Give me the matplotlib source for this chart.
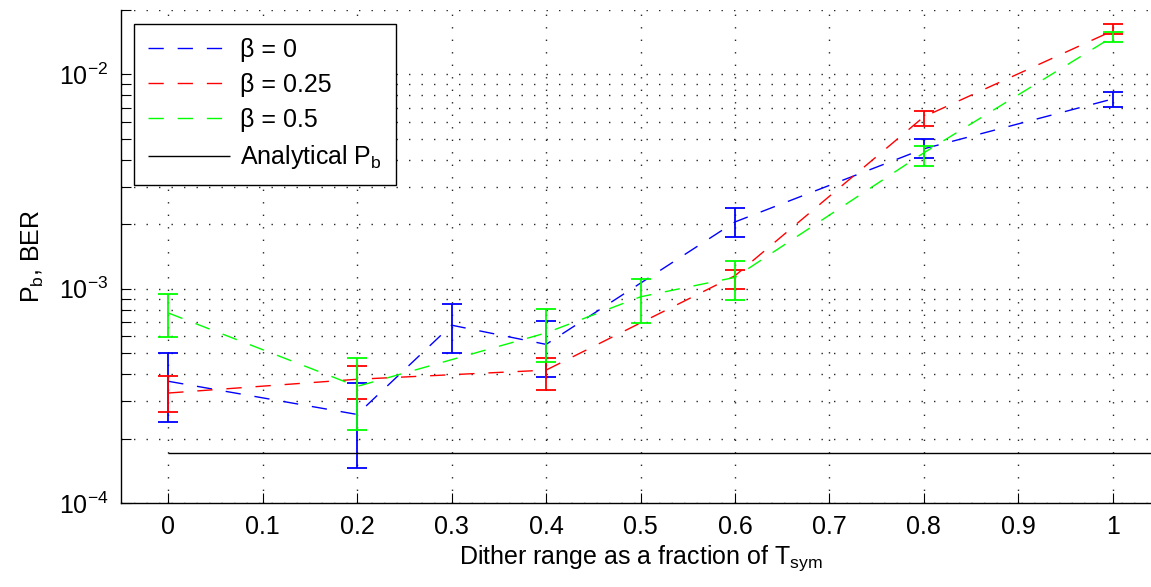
import numpy as np
import matplotlib
matplotlib.use("Agg")
import matplotlib.pyplot as plt
from matplotlib.ticker import LogLocator, NullFormatter

plt.rcParams['font.family'] = ['Liberation Sans', 'DejaVu Sans']
plt.rcParams['mathtext.fontset'] = 'custom'
plt.rcParams['mathtext.rm'] = 'Liberation Sans'
plt.rcParams['mathtext.it'] = 'Liberation Sans:italic'
plt.rcParams['mathtext.bf'] = 'Liberation Sans:bold'

# dither range (fraction of Tsym) and simulated BER with error-bar limits
x_b0 = [0.0, 0.2, 0.3, 0.4, 0.6, 0.8, 1.0]
ber_b0 = [3.70e-4, 2.59e-4, 6.76e-4, 5.50e-4, 2.05e-3, 4.50e-3, 7.69e-3]
lo_b0 = [2.40e-4, 1.45e-4, 4.99e-4, 3.86e-4, 1.75e-3, 4.06e-3, 7.05e-3]
hi_b0 = [5.02e-4, 3.63e-4, 8.53e-4, 7.08e-4, 2.37e-3, 4.99e-3, 8.26e-3]

x_b25 = [0.0, 0.2, 0.4, 0.6, 0.8, 1.0]
ber_b25 = [3.26e-4, 3.78e-4, 4.17e-4, 1.15e-3, 6.35e-3, 1.60e-2]
lo_b25 = [2.65e-4, 3.05e-4, 3.38e-4, 1.00e-3, 5.72e-3, 1.55e-2]
hi_b25 = [3.91e-4, 4.38e-4, 4.76e-4, 1.22e-3, 6.78e-3, 1.72e-2]

x_b5 = [0.0, 0.2, 0.4, 0.5, 0.6, 0.8, 1.0]
ber_b5 = [7.71e-4, 3.50e-4, 6.22e-4, 9.17e-4, 1.13e-3, 4.31e-3, 1.50e-2]
lo_b5 = [5.95e-4, 2.19e-4, 4.56e-4, 6.90e-4, 8.88e-4, 3.74e-3, 1.42e-2]
hi_b5 = [9.44e-4, 4.76e-4, 8.03e-4, 1.107e-3, 1.353e-3, 4.65e-3, 1.586e-2]

analytical_pb = 1.72e-4

series = [
    (x_b0, ber_b0, lo_b0, hi_b0, (0, 0, 1), 'β = 0'),
    (x_b25, ber_b25, lo_b25, hi_b25, (1, 0, 0), 'β = 0.25'),
    (x_b5, ber_b5, lo_b5, hi_b5, (0, 1, 0), 'β = 0.5'),
]

fig = plt.figure(figsize=(11.51, 5.87), dpi=100)
ax = fig.add_axes([121 / 1151, 1 - 503 / 587, 1039 / 1151, 493 / 587])

fs = 18
for xs, ys, lo, hi, col, lab in series:
    ys = np.array(ys)
    yerr = [ys - np.array(lo), np.array(hi) - ys]
    ax.plot(xs, ys, color=col, lw=1.0, dashes=(11, 10), label=lab)
    ax.errorbar(xs, ys, yerr=yerr, fmt='none', ecolor=col, elinewidth=1.3,
                capsize=7, capthick=1.3)

ax.hlines(analytical_pb, 0, 1.1, color='k', lw=1.0, label=r'Analytical P$_\mathrm{b}$')

ax.set_yscale('log')
ax.set_xlim(-0.05, 1.05)
ax.set_ylim(1e-4, 2e-2)
ax.set_xticks(np.arange(0, 1.01, 0.1))
ax.set_xticklabels(['%g' % t for t in np.round(np.arange(0, 1.01, 0.1), 1)])
ax.yaxis.set_minor_locator(LogLocator(base=10, subs=np.arange(2, 10)))
ax.yaxis.set_minor_formatter(NullFormatter())

grid_style = dict(color='0.15', lw=1.0, linestyle=(0, (1, 8)))
ax.grid(True, which='both', axis='y', **grid_style)
ax.grid(True, which='major', axis='x', **grid_style)
ax.tick_params(which='both', direction='in', labelsize=fs, top=False, right=False,
               width=0.8, pad=9)
ax.tick_params(which='major', length=7)
ax.tick_params(which='minor', length=7)
for s in ('top', 'right'):
    ax.spines[s].set_visible(False)
for s in ('left', 'bottom'):
    ax.spines[s].set_linewidth(1.0)

ax.set_xlabel(r'Dither range as a fraction of T$_\mathrm{sym}$', fontsize=fs, labelpad=3)
ax.set_ylabel(r'P$_\mathrm{b}$, BER', fontsize=fs, labelpad=9)

leg = ax.legend(loc='upper left', bbox_to_anchor=(0.0125, 0.972), borderaxespad=0,
                fontsize=fs, handlelength=3.3, handletextpad=0.4, labelspacing=0.45,
                fancybox=False, framealpha=1, edgecolor='k', borderpad=0.55)
leg.get_frame().set_linewidth(1.0)

fig.savefig('out.png', dpi=100)
